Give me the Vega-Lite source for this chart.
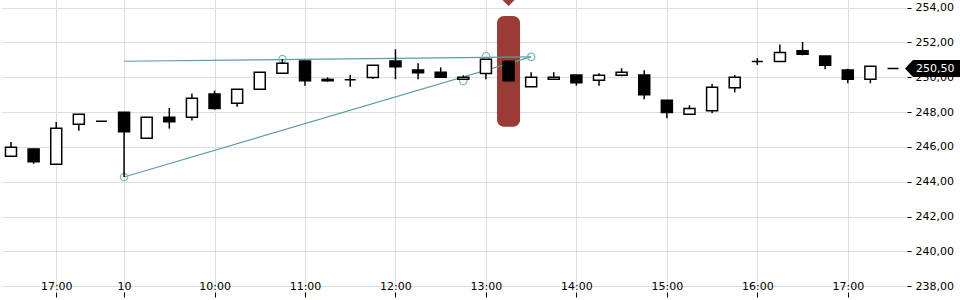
{
  "$schema": "https://vega.github.io/schema/vega-lite/v6.json",
  "width": 905,
  "height": 287,
  "autosize": "none",
  "padding": {"left": 0, "top": 0, "right": 55, "bottom": 13},
  "background": "white",
  "config": {
    "view": {"stroke": null},
    "font": "DejaVu Sans",
    "scale": {"continuousPadding": 0},
    "axisY": {
      "orient": "right",
      "values": [238, 240, 242, 244, 246, 248, 250, 252, 254],
      "labelExpr": "replace(format(datum.value, '.2f'), '.', ',')",
      "grid": true,
      "gridColor": "#dddddd",
      "gridWidth": 1,
      "domain": false,
      "tickColor": "#000000",
      "tickSize": 4,
      "offset": 2,
      "labelPadding": 4,
      "labelFont": "DejaVu Sans",
      "labelFontSize": 11,
      "labelColor": "#000000",
      "labelOverlap": false,
      "title": null
    }
  },
  "datasets": {
    "candles": [
      {"i": 0, "o": 245.46, "h": 246.28, "l": 245.45, "c": 245.98},
      {"i": 1, "o": 245.88, "h": 245.9, "l": 245.03, "c": 245.15},
      {"i": 2, "o": 245.0, "h": 247.43, "l": 245.0, "c": 247.07},
      {"i": 3, "o": 247.3, "h": 247.87, "l": 246.93, "c": 247.87},
      {"i": 4, "o": 247.47, "h": 247.47, "l": 247.47, "c": 247.47},
      {"i": 5, "o": 247.99, "h": 247.99, "l": 244.27, "c": 246.87},
      {"i": 6, "o": 246.49, "h": 247.7, "l": 246.49, "c": 247.7},
      {"i": 7, "o": 247.7, "h": 248.24, "l": 247.05, "c": 247.45},
      {"i": 8, "o": 247.7, "h": 249.07, "l": 247.51, "c": 248.79},
      {"i": 9, "o": 249.04, "h": 249.23, "l": 248.14, "c": 248.2},
      {"i": 10, "o": 248.51, "h": 249.31, "l": 248.31, "c": 249.31},
      {"i": 11, "o": 249.31, "h": 250.29, "l": 249.31, "c": 250.29},
      {"i": 12, "o": 250.23, "h": 251.05, "l": 250.23, "c": 250.8},
      {"i": 13, "o": 250.94, "h": 250.94, "l": 249.52, "c": 249.8},
      {"i": 14, "o": 249.88, "h": 250.0, "l": 249.75, "c": 249.8},
      {"i": 15, "o": 249.86, "h": 250.15, "l": 249.46, "c": 249.86},
      {"i": 16, "o": 249.98, "h": 250.69, "l": 249.92, "c": 250.69},
      {"i": 17, "o": 250.94, "h": 251.61, "l": 249.89, "c": 250.61},
      {"i": 18, "o": 250.42, "h": 250.8, "l": 249.89, "c": 250.26},
      {"i": 19, "o": 250.29, "h": 250.57, "l": 250.0, "c": 250.0},
      {"i": 20, "o": 249.89, "h": 250.11, "l": 249.89, "c": 250.0},
      {"i": 21, "o": 250.21, "h": 251.03, "l": 249.89, "c": 251.03},
      {"i": 22, "o": 250.92, "h": 250.92, "l": 249.8, "c": 249.8},
      {"i": 23, "o": 249.46, "h": 250.29, "l": 249.46, "c": 250.0},
      {"i": 24, "o": 249.89, "h": 250.29, "l": 249.89, "c": 250.0},
      {"i": 25, "o": 250.13, "h": 250.13, "l": 249.52, "c": 249.69},
      {"i": 26, "o": 249.83, "h": 250.23, "l": 249.52, "c": 250.11},
      {"i": 27, "o": 250.11, "h": 250.52, "l": 250.06, "c": 250.29},
      {"i": 28, "o": 250.13, "h": 250.4, "l": 248.74, "c": 249.0},
      {"i": 29, "o": 248.68, "h": 248.68, "l": 247.64, "c": 247.97},
      {"i": 30, "o": 247.87, "h": 248.39, "l": 247.87, "c": 248.2},
      {"i": 31, "o": 248.08, "h": 249.61, "l": 247.93, "c": 249.43},
      {"i": 32, "o": 249.4, "h": 250.13, "l": 249.13, "c": 250.0},
      {"i": 33, "o": 250.91, "h": 251.1, "l": 250.71, "c": 250.91},
      {"i": 34, "o": 250.91, "h": 251.89, "l": 250.91, "c": 251.43},
      {"i": 35, "o": 251.52, "h": 252.03, "l": 251.26, "c": 251.33},
      {"i": 36, "o": 251.22, "h": 251.22, "l": 250.46, "c": 250.69},
      {"i": 37, "o": 250.42, "h": 250.49, "l": 249.66, "c": 249.89},
      {"i": 38, "o": 249.89, "h": 250.63, "l": 249.66, "c": 250.63},
      {"i": 39, "o": 250.5, "h": 250.5, "l": 250.5, "c": 250.5}
    ],
    "highlight": [{"i": 22, "lo": 247.16, "hi": 253.52, "top": 254.44}],
    "lines": [
      {"line": "A", "i": 5, "v": 250.92},
      {"line": "A", "i": 23, "v": 251.17},
      {"line": "B", "i": 5, "v": 244.27},
      {"line": "B", "i": 23, "v": 251.17}
    ],
    "pts": [
      {"i": 5, "v": 244.27},
      {"i": 12, "v": 251.05},
      {"i": 20, "v": 249.79},
      {"i": 21, "v": 251.21},
      {"i": 23, "v": 251.17}
    ],
    "last": [{"i": 39, "price": 250.5, "label": "250,50"}]
  },
  "encoding": {
    "x": {
      "field": "i",
      "type": "quantitative",
      "title": null,
      "scale": {"domain": [-0.486, 39.53], "nice": false, "zero": false, "padding": 0},
      "axis": {
        "values": [2, 5, 9, 13, 17, 21, 25, 29, 33, 37],
        "labelExpr": "datum.value == 2 ? '17:00' : datum.value == 5 ? '10' : (9 + (datum.value - 5) / 4) + ':00'",
        "grid": true,
        "gridColor": "#dddddd",
        "gridWidth": 1,
        "domain": false,
        "ticks": true,
        "tickColor": "#000000",
        "tickSize": 5,
        "offset": 5,
        "labelPadding": -11,
        "labelBaseline": "middle",
        "labelFont": "DejaVu Sans",
        "labelFontSize": 11,
        "labelColor": "#000000",
        "labelOverlap": false
      }
    }
  },
  "layer": [
    {
      "data": {"name": "highlight"},
      "mark": {"type": "bar", "width": 23, "cornerRadius": 7, "fill": "#993c36"},
      "encoding": {
        "y": {"field": "lo", "type": "quantitative", "title": null,
              "scale": {"domain": [237.95, 254.44], "nice": false, "zero": false}},
        "y2": {"field": "hi"}
      }
    },
    {
      "data": {"name": "highlight"},
      "mark": {"type": "point", "shape": "diamond", "filled": true, "size": 150, "fill": "#993c36", "opacity": 1},
      "encoding": {
        "y": {"field": "top", "type": "quantitative", "title": null,
              "scale": {"domain": [237.95, 254.44], "nice": false, "zero": false}}
      }
    },
    {
      "data": {"name": "lines"},
      "mark": {"type": "line", "stroke": "#5a9ea5", "strokeWidth": 1.2},
      "encoding": {
        "detail": {"field": "line"},
        "y": {"field": "v", "type": "quantitative", "title": null,
              "scale": {"domain": [237.95, 254.44], "nice": false, "zero": false}}
      }
    },
    {
      "data": {"name": "pts"},
      "mark": {"type": "point", "shape": "circle", "filled": false, "size": 55, "stroke": "#7eb6bb", "strokeWidth": 1.2, "opacity": 1},
      "encoding": {
        "y": {"field": "v", "type": "quantitative", "title": null,
              "scale": {"domain": [237.95, 254.44], "nice": false, "zero": false}}
      }
    },
    {
      "data": {"name": "candles"},
      "mark": {"type": "rule", "stroke": "#000000", "strokeWidth": 1.5},
      "encoding": {
        "y": {"field": "l", "type": "quantitative", "title": null,
              "scale": {"domain": [237.95, 254.44], "nice": false, "zero": false}},
        "y2": {"field": "h"}
      }
    },
    {
      "data": {"name": "candles"},
      "mark": {"type": "bar", "width": 11, "stroke": "#000000", "strokeWidth": 1.5},
      "encoding": {
        "y": {"field": "o", "type": "quantitative", "title": null,
              "scale": {"domain": [237.95, 254.44], "nice": false, "zero": false}},
        "y2": {"field": "c"},
        "fill": {"condition": {"test": "datum.c > datum.o", "value": "#ffffff"}, "value": "#000000"}
      }
    },
    {
      "data": {"name": "last"},
      "mark": {"type": "point", "shape": "M-1,0L-0.71,-0.31L1,-0.31L1,0.31L-0.71,0.31Z", "filled": true, "size": 3025, "fill": "#000000", "opacity": 1, "xOffset": 39.5, "clip": false},
      "encoding": {
        "y": {"field": "price", "type": "quantitative", "title": null,
              "scale": {"domain": [237.95, 254.44], "nice": false, "zero": false}}
      }
    },
    {
      "data": {"name": "last"},
      "mark": {"type": "text", "align": "left", "baseline": "middle", "dx": 23, "font": "DejaVu Sans", "fontSize": 11, "fill": "#ffffff"},
      "encoding": {
        "y": {"field": "price", "type": "quantitative", "title": null,
              "scale": {"domain": [237.95, 254.44], "nice": false, "zero": false}},
        "text": {"field": "label"}
      }
    }
  ]
}
